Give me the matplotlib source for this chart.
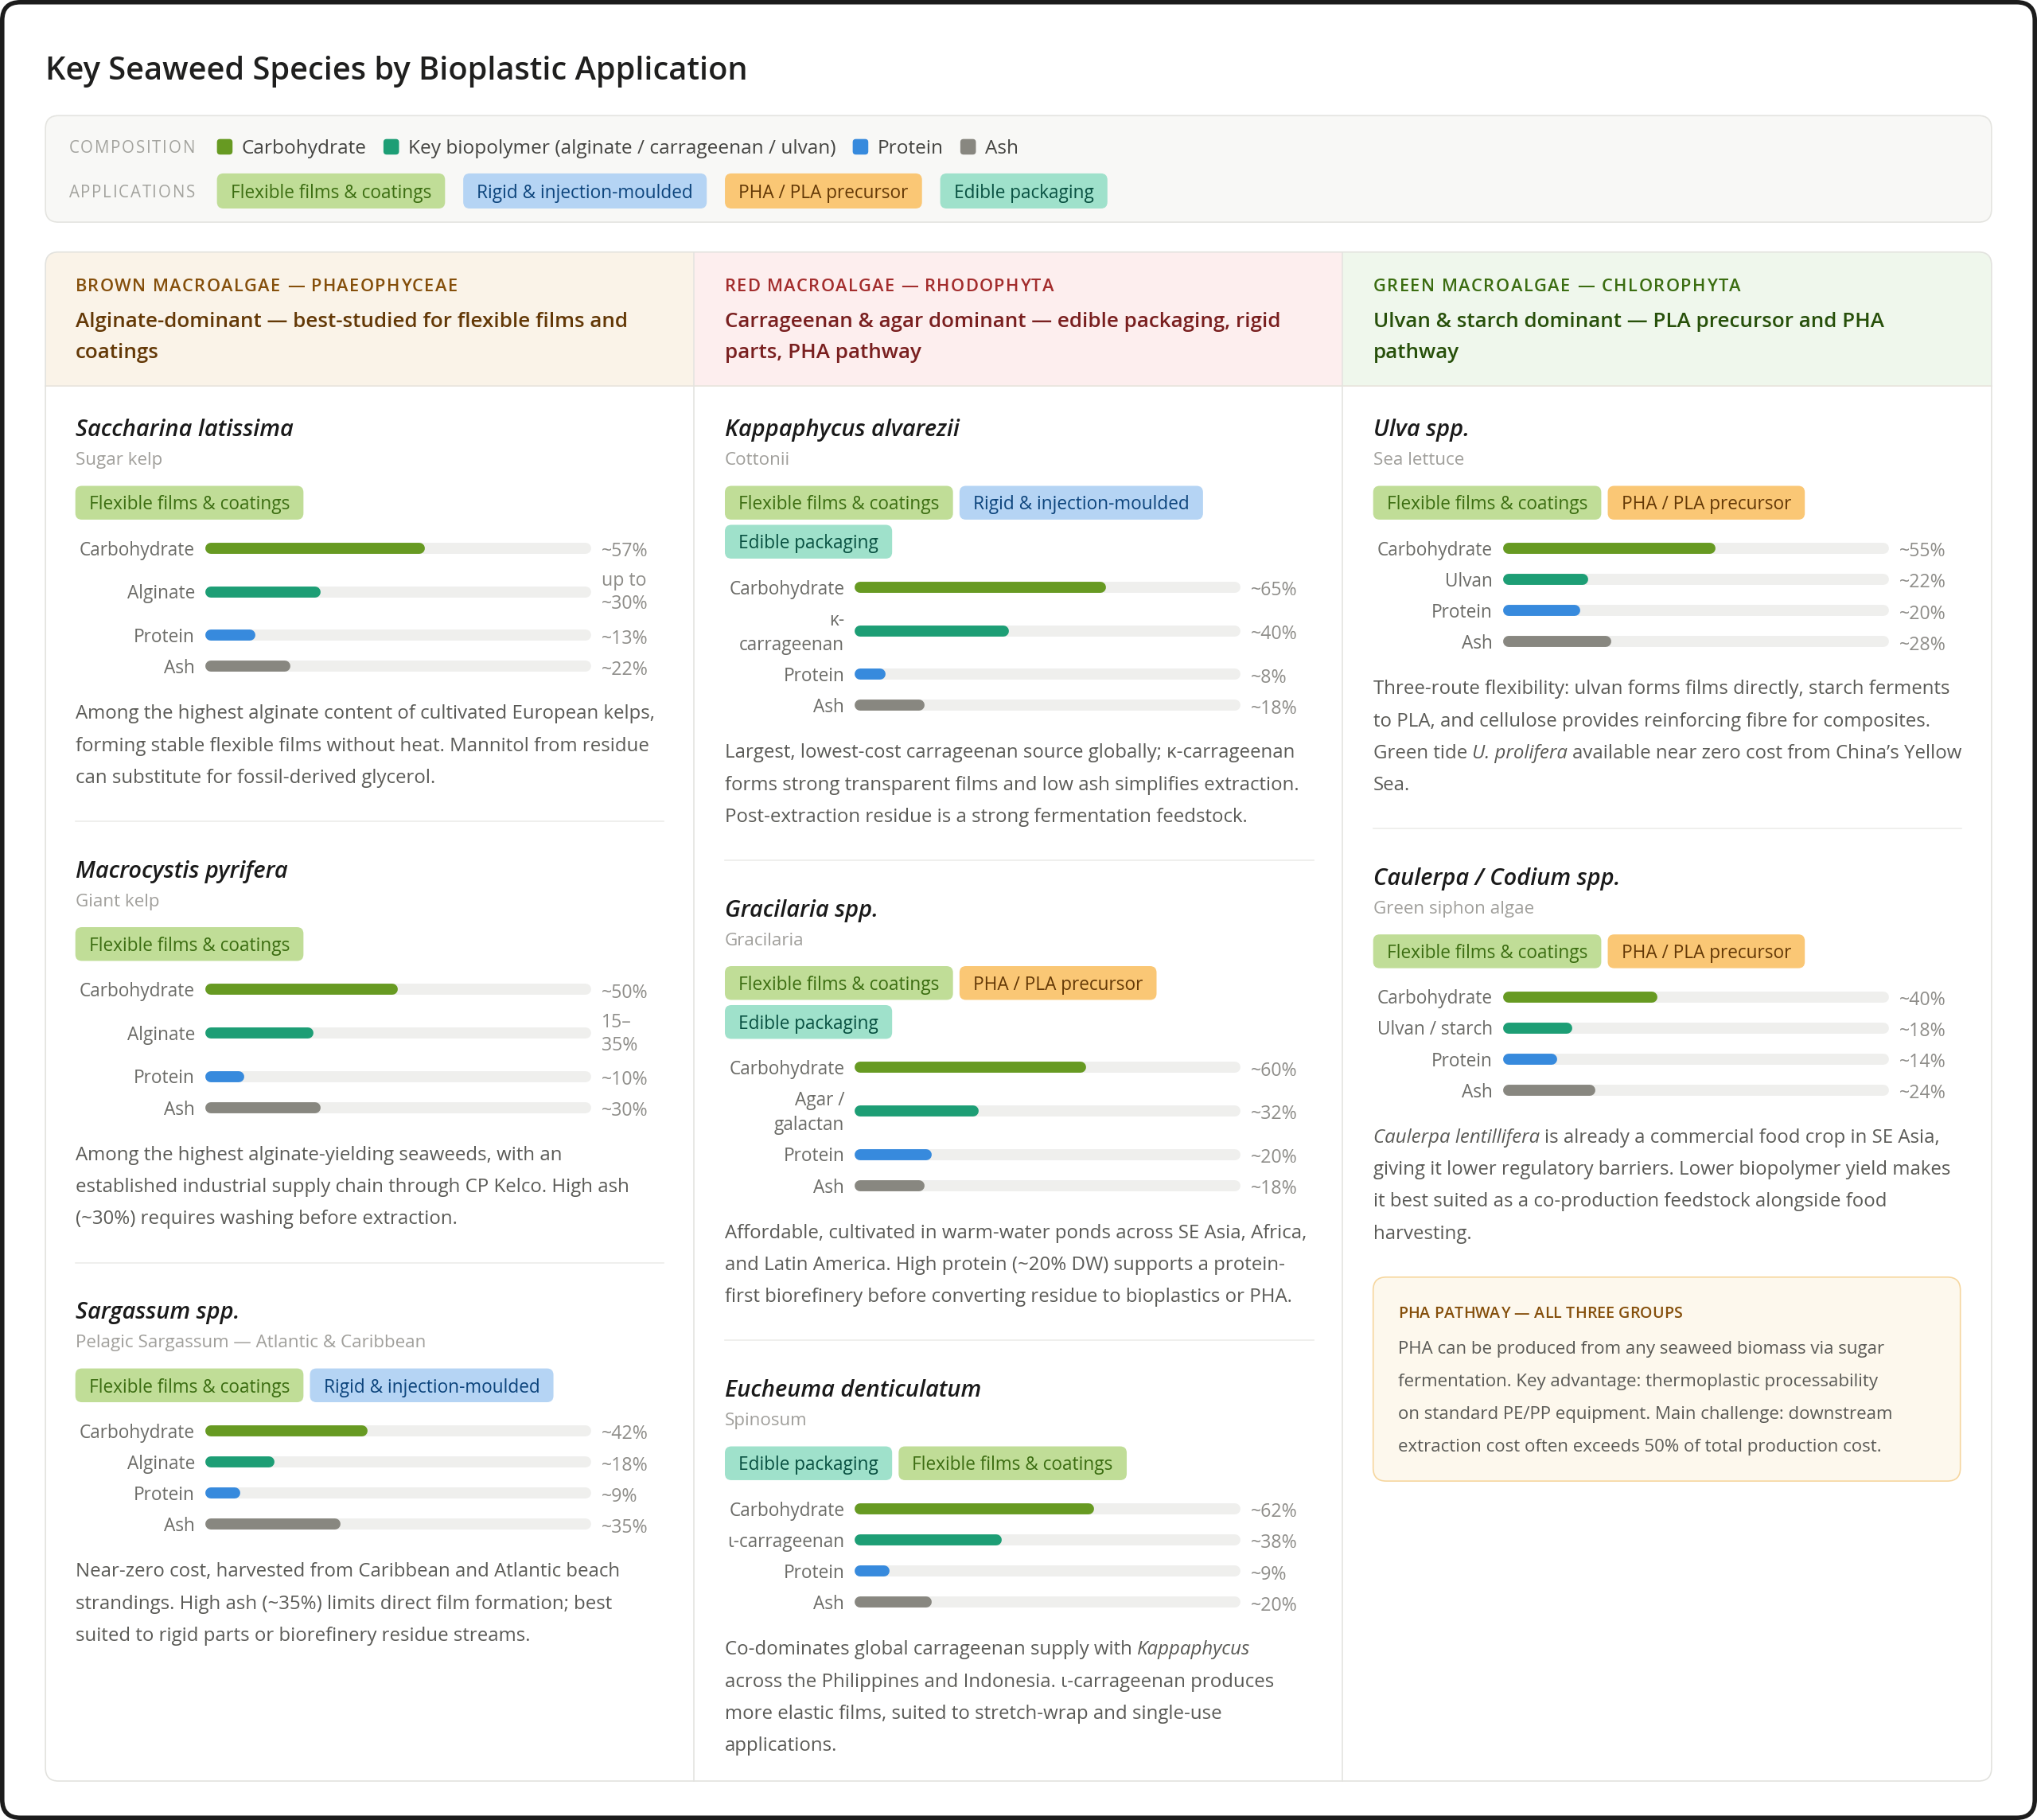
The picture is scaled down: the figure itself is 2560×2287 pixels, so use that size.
import matplotlib
matplotlib.use('Agg')
import matplotlib.pyplot as plt
from matplotlib import font_manager as fm
from matplotlib.patches import FancyBboxPatch, Rectangle

# ---------------- data ----------------
title = 'Key Seaweed Species by Bioplastic Application'

comp_labels = ['Carbohydrate', 'Key biopolymer (alginate / carrageenan / ulvan)', 'Protein', 'Ash']
comp_colors = ['#679a22', '#1d9e75', '#378add', '#888780']

app_labels = ['Flexible films & coatings', 'Rigid & injection-moulded', 'PHA / PLA precursor', 'Edible packaging']
app_fill = ['#c0dd97', '#b5d4f4', '#fac775', '#9fe1cb']
app_text = ['#3b6d11', '#0c447c', '#633806', '#085041']

group_titles = ['BROWN MACROALGAE — PHAEOPHYCEAE', 'RED MACROALGAE — RHODOPHYTA', 'GREEN MACROALGAE — CHLOROPHYTA']
group_subtitles = [
    ['Alginate-dominant — best-studied for flexible films and', 'coatings'],
    ['Carrageenan & agar dominant — edible packaging, rigid', 'parts, PHA pathway'],
    ['Ulvan & starch dominant — PLA precursor and PHA', 'pathway'],
]
group_fill = ['#faf3e8', '#fdeeee', '#eff7ec']
group_title_color = ['#854f0b', '#a32d2d', '#3b6d11']
group_sub_color = ['#633806', '#791f1f', '#27500a']

species_names = ['Saccharina latissima', 'Macrocystis pyrifera', 'Sargassum spp.',
                 'Kappaphycus alvarezii', 'Gracilaria spp.', 'Eucheuma denticulatum',
                 'Ulva spp.', 'Caulerpa / Codium spp.']
species_group = [0, 0, 0, 1, 1, 1, 2, 2]
common_names = ['Sugar kelp', 'Giant kelp', 'Pelagic Sargassum — Atlantic & Caribbean',
                'Cottonii', 'Gracilaria', 'Spinosum', 'Sea lettuce', 'Green siphon algae']
species_apps = [[0], [0], [0, 1], [0, 1, 3], [0, 2, 3], [3, 0], [0, 2], [0, 2]]

biopolymer_names = ['Alginate', 'Alginate', 'Alginate', 'κ-\ncarrageenan', 'Agar /\ngalactan',
                    'ι-carrageenan', 'Ulvan', 'Ulvan / starch']
carbohydrate = [57, 50, 42, 65, 60, 62, 55, 40]
biopolymer = [30, 28, 18, 40, 32, 38, 22, 18]
protein = [13, 10, 9, 8, 20, 9, 20, 14]
ash = [22, 30, 35, 18, 18, 20, 28, 24]
biopolymer_text = ['up to\n~30%', '15–\n35%', '~18%', '~40%', '~32%', '~38%', '~22%', '~18%']

notes = [
    ['Among the highest alginate content of cultivated European kelps,',
     'forming stable flexible films without heat. Mannitol from residue',
     'can substitute for fossil-derived glycerol.'],
    ['Among the highest alginate-yielding seaweeds, with an',
     'established industrial supply chain through CP Kelco. High ash',
     '(~30%) requires washing before extraction.'],
    ['Near-zero cost, harvested from Caribbean and Atlantic beach',
     'strandings. High ash (~35%) limits direct film formation; best',
     'suited to rigid parts or biorefinery residue streams.'],
    ['Largest, lowest-cost carrageenan source globally; κ-carrageenan',
     'forms strong transparent films and low ash simplifies extraction.',
     'Post-extraction residue is a strong fermentation feedstock.'],
    ['Affordable, cultivated in warm-water ponds across SE Asia, Africa,',
     'and Latin America. High protein (~20% DW) supports a protein-',
     'first biorefinery before converting residue to bioplastics or PHA.'],
    ['Co-dominates global carrageenan supply with *Kappaphycus*',
     'across the Philippines and Indonesia. ι-carrageenan produces',
     'more elastic films, suited to stretch-wrap and single-use',
     'applications.'],
    ['Three-route flexibility: ulvan forms films directly, starch ferments',
     'to PLA, and cellulose provides reinforcing fibre for composites.',
     'Green tide *U. prolifera* available near zero cost from China’s Yellow',
     'Sea.'],
    ['*Caulerpa lentillifera* is already a commercial food crop in SE Asia,',
     'giving it lower regulatory barriers. Lower biopolymer yield makes',
     'it best suited as a co-production feedstock alongside food',
     'harvesting.'],
]

pha_title = 'PHA PATHWAY — ALL THREE GROUPS'
pha_lines = ['PHA can be produced from any seaweed biomass via sugar',
             'fermentation. Key advantage: thermoplastic processability',
             'on standard PE/PP equipment. Main challenge: downstream',
             'extraction cost often exceeds 50% of total production cost.']

# ---------------- fonts ----------------
def _w(v):
    return v if isinstance(v, int) else fm.weight_dict.get(v, 400)


def has_face(fam, wmin, style):
    return any(f.name == fam and f.style == style and _w(f.weight) >= wmin
               for f in fm.fontManager.ttflist)


FONT = 'DejaVu Sans'
for fam in ['Noto Sans', 'Open Sans', 'Lato', 'Roboto', 'Liberation Sans']:
    if has_face(fam, 600, 'normal') and has_face(fam, 600, 'italic'):
        FONT = fam
        break
plt.rcParams['font.family'] = [FONT, 'DejaVu Sans']

# ---------------- canvas ----------------
W, H = 1568, 1401          # layout units = reference pixels
PT = 2560 / W * 72 / 100   # points per layout unit

fig = plt.figure(figsize=(25.6, 22.87), dpi=100)
ax = fig.add_axes([0, 0, 1, 1])
ax.set_xlim(0, W)
ax.set_ylim(H, 0)
ax.axis('off')
renderer = fig.canvas.get_renderer()


def width_of(s, size, **kw):
    t = ax.text(0, 0, '|' + s + '|', fontsize=size * PT, **kw)
    w1 = t.get_window_extent(renderer).width
    t.set_text('||')
    w2 = t.get_window_extent(renderer).width
    t.remove()
    return (w1 - w2) * W / 2560


def fit(s, target, **kw):
    # font size (layout px) giving the reference width for a sample string
    return 14 * target / width_of(s, 14, **kw)


def txt(x, y, s, size, **kw):
    kw.setdefault('va', 'center')
    kw.setdefault('ha', 'left')
    return ax.text(x, y + 0.12 * size, s, fontsize=size * PT, **kw)


def rbox(x, y, w, h, r, fc, ec='none', lw=0, z=1):
    p = FancyBboxPatch((x, y), w, h, boxstyle=f'round,pad=0,rounding_size={r}',
                       fc=fc, ec=ec, lw=lw, zorder=z)
    ax.add_patch(p)
    return p


def spaced(x, y, s, size, color, target, weight='medium', z=4):
    widths = [width_of(ch, size, weight=weight) for ch in s]
    track = (target - sum(widths)) / max(len(s) - 1, 1)
    for ch, w in zip(s, widths):
        if ch != ' ':
            txt(x, y, ch, size, color=color, weight=weight, zorder=z)
        x += w + track


def rich(x, y, s, size, color, z=4):
    # '*' toggles italic
    for i, part in enumerate(s.split('*')):
        if not part:
            continue
        style = 'italic' if i % 2 else 'normal'
        core = part.strip()
        lead = part[:len(part) - len(part.lstrip())]
        xs = x + (width_of(lead, size, style=style) if lead else 0)
        if core:
            txt(xs, y, core, size, color=color, style=style, zorder=z)
        x += width_of(part, size, style=style)


# calibrated sizes (target widths)
S_TITLE = fit(title, 542, weight='semibold')
S_LEG = fit(comp_labels[1], 329)
S_PILL = fit(app_labels[0], 155, weight='medium')
S_SUB = fit(group_subtitles[0][0], 426, weight='semibold')
S_NAME = fit(species_names[0], 168, weight='semibold', style='italic')
S_COMMON = fit(common_names[2], 271)
S_LABEL = fit('Carbohydrate', 89)
S_VALUE = fit('~57%', 36)
S_NOTE = fit(notes[0][0], 447)
S_PHA = fit(pha_lines[0], 375)


def pill_width(idx):
    return width_of(app_labels[idx], S_PILL, weight='medium') + 21


def pill(x, yc, idx, h=26):
    w = pill_width(idx)
    rbox(x, yc - h / 2, w, h, 5, app_fill[idx], z=3)
    txt(x + w / 2, yc, app_labels[idx], S_PILL, color=app_text[idx],
        weight='medium', ha='center', zorder=4)
    return w


# outer frame
rbox(1.7, 1.7, W - 3.4, H - 3.4, 14, 'white', ec='#1c1c1c', lw=3.4 * PT, z=0)

# title
txt(35, 52, title, S_TITLE, weight='semibold', color='#1f1f1e')

# legend box
rbox(35, 89, 1498, 82, 10, '#f8f8f6', ec='#e4e4e0', lw=1.0 * PT, z=1)
spaced(53, 113, 'COMPOSITION', 12.6, '#a3a39e', 97)
spaced(53, 147, 'APPLICATIONS', 12.6, '#a3a39e', 97)
lx = 167
for lab, col in zip(comp_labels, comp_colors):
    rbox(lx, 107, 12, 12, 2.5, col, z=3)
    txt(lx + 19, 113, lab, S_LEG, color='#444441')
    lx += 19 + width_of(lab, S_LEG) + 13
lx = 167
for k in range(len(app_labels)):
    lx += pill(lx, 147, k, h=27) + 14

# main panel
PX0, PX1, PY0, PY1 = 35, 1533, 194, 1371
HDR = 297
panel = rbox(PX0, PY0, PX1 - PX0, PY1 - PY0, 10, 'white', z=1)
col_edges = [PX0, 534, 1033, PX1]
for g in range(3):
    r = Rectangle((col_edges[g], PY0), col_edges[g + 1] - col_edges[g], HDR - PY0,
                  fc=group_fill[g], ec='none', zorder=2)
    ax.add_patch(r)
    r.set_clip_path(panel)
ax.plot([PX0, PX1], [HDR, HDR], color='#e8e4dc', lw=1.0 * PT, zorder=3)
for xe in col_edges[1:3]:
    ax.plot([xe, xe], [PY0, PY1], color='#e4e4e0', lw=1.0 * PT, zorder=3)
rbox(PX0, PY0, PX1 - PX0, PY1 - PY0, 10, 'none', ec='#e2e2de', lw=1.0 * PT, z=6)

col_x = [58, 558, 1057]
title_widths = [294, 253, 283]
CW = 453
TRACK_OFF, TRACK_LEN = 100, 297
BAR_PX = 8.5

for g in range(3):
    x0 = col_x[g]
    spaced(x0, 219, group_titles[g], 13.4, group_title_color[g], title_widths[g], weight='semibold')
    for j, line in enumerate(group_subtitles[g]):
        txt(x0, 246 + 24 * j, line, S_SUB, weight='semibold', color=group_sub_color[g])

    # bar axes for this column, x in percent, y shared with the layout
    bax = fig.add_axes([(x0 + TRACK_OFF) / W, 0, TRACK_LEN / W, 1])
    bax.set_xlim(0, 100)
    bax.set_ylim(H, 0)
    bax.axis('off')
    bax.patch.set_alpha(0)
    rr = BAR_PX / 2 / TRACK_LEN * 100

    y = 329
    members = [i for i in range(len(species_names)) if species_group[i] == g]
    for n, i in enumerate(members):
        txt(x0, y, species_names[i], S_NAME, weight='semibold', style='italic', color='#1a1a1a')
        txt(x0, y + 24, common_names[i], S_COMMON, color='#a09f9b')
        py = y + 58
        px = x0
        for a in species_apps[i]:
            if px + pill_width(a) > x0 + CW:
                px = x0
                py += 30
            px += pill(px, py, a) + 5

        vals = [carbohydrate[i], biopolymer[i], protein[i], ash[i]]
        labs = ['Carbohydrate', biopolymer_names[i], 'Protein', 'Ash']
        vtxt = ['~%d%%' % carbohydrate[i], biopolymer_text[i], '~%d%%' % protein[i], '~%d%%' % ash[i]]
        dbl = [('\n' in labs[k]) or ('\n' in vtxt[k]) for k in range(4)]
        centers = []
        c = py + 35
        for k in range(4):
            if k > 0:
                c += 33.5 if (dbl[k] or dbl[k - 1]) else 24
            centers.append(c)
        bax.hlines(centers, rr, [100 - rr] * 4, colors='#efefed', linewidths=BAR_PX * PT,
                   capstyle='round', zorder=2)
        bax.hlines(centers, rr, [v - rr for v in vals], colors=comp_colors,
                   linewidths=BAR_PX * PT, capstyle='round', zorder=3)
        for k in range(4):
            ll = labs[k].split('\n')
            for m, t in enumerate(ll):
                dy = (m - (len(ll) - 1) / 2) * 19
                txt(x0 + TRACK_OFF - 8, centers[k] + dy, t, S_LABEL, color='#6b6b67', ha='right')
            vl = vtxt[k].split('\n')
            for m, t in enumerate(vl):
                dy = (m - (len(vl) - 1) / 2) * 18 - (1 if len(vl) > 1 else -1)
                txt(x0 + TRACK_OFF + TRACK_LEN + 8, centers[k] + dy, t, S_VALUE, color='#8e8d89')

        ly = centers[-1] + 35
        for m, line in enumerate(notes[i]):
            rich(x0, ly + 24.6 * m, line, S_NOTE, '#5a5a56')
        last = ly + 24.6 * (len(notes[i]) - 1)
        if n < len(members) - 1:
            ax.plot([x0, x0 + CW], [last + 35, last + 35], color='#ececea', lw=1.0 * PT, zorder=3)
            y = last + 35 + 36.5
        y_end = last

    if g == 2:
        top = y_end + 35
        rbox(x0, top, 452, 157, 10, '#fdf8ed', ec='#f6d69e', lw=1.0 * PT, z=3)
        spaced(x0 + 19, top + 27, pha_title, 12.0, '#854f0b', 219, weight='semibold')
        for m, line in enumerate(pha_lines):
            txt(x0 + 19, top + 54 + 25 * m, line, S_PHA, color='#5a5a56', zorder=4)

fig.savefig('out.png', dpi=100, facecolor='white')
